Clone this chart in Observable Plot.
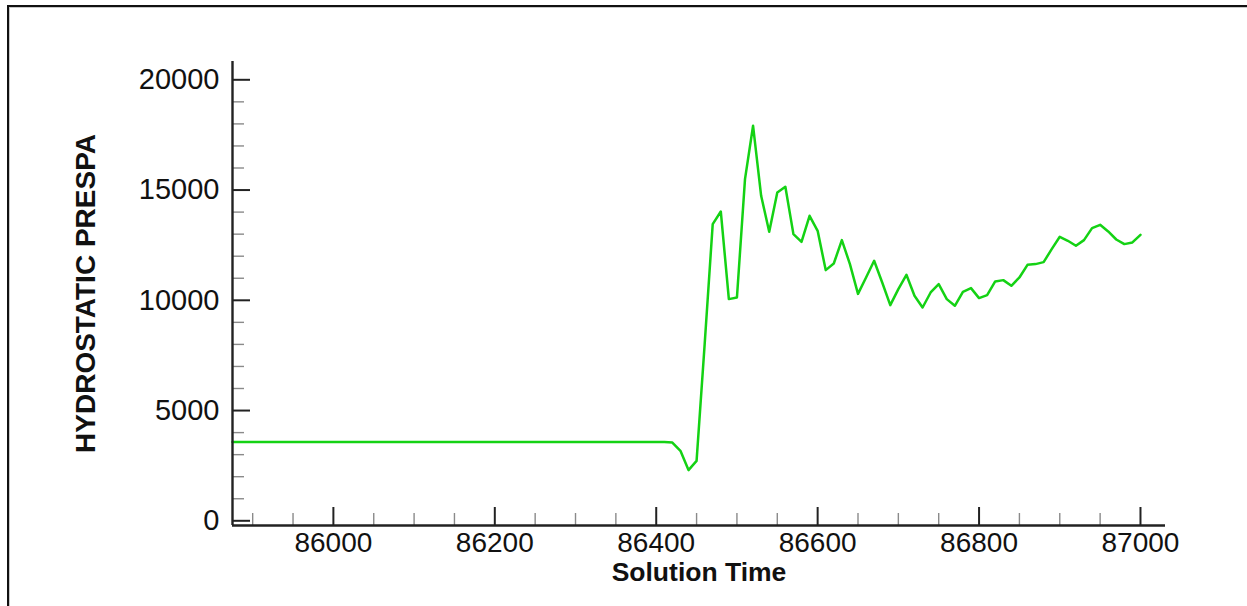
<!DOCTYPE html>
<html>
<head>
<meta charset="utf-8">
<script src="https://cdn.jsdelivr.net/npm/d3@7"></script>
<script src="https://cdn.jsdelivr.net/npm/@observablehq/plot@0.6"></script>
<style>
  html, body { margin: 0; padding: 0; background: #fff; }
  body { position: relative; width: 1247px; height: 606px; overflow: hidden; font-family: "Liberation Sans", Arial, sans-serif; }
  #frame { position: absolute; left: 7px; top: 5px; right: -10px; bottom: -10px;
           border-left: 2px solid #111; border-top: 2px solid #111;
           box-shadow: inset 1px 1px 0 #c8c8c8; pointer-events: none; }
  #chart { position: absolute; left: 0; top: 0; }
</style>
</head>
<body>
<div id="chart"></div>
<div id="frame"></div>
<script>
// Solution time samples and the hydrostatic pressure at each of them
const solutionTime = [
  85875, 86410, 86420, 86430, 86440, 86450, 86460, 86470, 86480, 86490,
  86500, 86510, 86520, 86530, 86540, 86550, 86560, 86570, 86580, 86590,
  86600, 86610, 86620, 86630, 86640, 86650, 86660, 86670, 86680, 86690,
  86700, 86710, 86720, 86730, 86740, 86750, 86760, 86770, 86780, 86790,
  86800, 86810, 86820, 86830, 86840, 86850, 86860, 86870, 86880, 86890,
  86900, 86910, 86920, 86930, 86940, 86950, 86960, 86970, 86980, 86990,
  87000
];
const hydrostaticPressure = [
  3570, 3570, 3550, 3175, 2300, 2720, 8000, 13456, 14028, 10054,
  10127, 15496, 17914, 14739, 13107, 14889, 15147, 13002, 12653, 13832,
  13152, 11369, 11669, 12730, 11641, 10290, 11036, 11791, 10809, 9781,
  10508, 11156, 10204, 9675, 10355, 10733, 10054, 9751, 10385, 10552,
  10100, 10235, 10854, 10915, 10658, 11036, 11610, 11641, 11731, 12321,
  12880, 12698, 12472, 12730, 13274, 13424, 13121, 12758, 12548, 12623,
  12971
];

// Axis ticks
const xMajorTicks = [86000, 86200, 86400, 86600, 86800, 87000];
const xMinorTicks = [85900, 85950, 86050, 86100, 86150, 86250, 86300, 86350,
  86450, 86500, 86550, 86650, 86700, 86750, 86850, 86900, 86950];
const yMajorTicks = [0, 5000, 10000, 15000, 20000];
const yMinorTicks = [1000, 2000, 3000, 4000, 6000, 7000, 8000, 9000,
  11000, 12000, 13000, 14000, 16000, 17000, 18000, 19000];

const xDomain = [85875, 87031];
const yDomain = [-213, 20830];

const xTitle = "Solution Time";
const yTitle = "HYDROSTATIC PRESPA";

const series = solutionTime.map((t, i) => ({t, p: hydrostaticPressure[i]}));

const axisColor = "#222";
const minorColor = "#8a8a8a";

const chart = Plot.plot({
  width: 1247,
  height: 606,
  marginLeft: 232,
  marginRight: 82,
  marginTop: 61,
  marginBottom: 81,
  style: {fontFamily: "'Liberation Sans', Arial, sans-serif", background: "transparent", color: "#111"},
  x: {domain: xDomain},
  y: {domain: yDomain},
  marks: [
    // pressure trace
    Plot.line(series, {x: "t", y: "p", stroke: "#14d214", strokeWidth: 2.5}),

    // minor ticks, drawn inward
    Plot.axisX(xMinorTicks, {tickSize: -12, fill: "none", stroke: minorColor, strokeWidth: 1.4}),
    Plot.axisY(yMinorTicks, {tickSize: -12, fill: "none", stroke: minorColor, strokeWidth: 1.4}),
    // major ticks, drawn inward
    Plot.axisX(xMajorTicks, {tickSize: -18, fill: "none", stroke: axisColor, strokeWidth: 2}),
    Plot.axisY(yMajorTicks, {tickSize: -18, fill: "none", stroke: axisColor, strokeWidth: 2}),

    // tick labels
    Plot.axisX(xMajorTicks, {tickSize: 0, tickPadding: 7, tickFormat: "d", fontSize: 28, label: null, fill: "#111"}),
    Plot.axisY(yMajorTicks, {tickSize: 0, tickPadding: 13, tickFormat: "d", fontSize: 29, label: null, fill: "#111"}),

    // axis lines
    Plot.ruleX([xDomain[0]], {stroke: axisColor, strokeWidth: 2.4}),
    Plot.ruleY([yDomain[0]], {stroke: axisColor, strokeWidth: 2.4}),

    // axis titles
    Plot.text([xTitle], {frameAnchor: "bottom", dy: 47, lineAnchor: "middle", textAnchor: "middle", text: d => d,
      fontSize: 26.5, fontWeight: "bold", fill: "#111"}),
    Plot.text([yTitle], {frameAnchor: "left", dx: -146, rotate: -90, lineAnchor: "middle", textAnchor: "middle", text: d => d,
      fontSize: 28, fontWeight: "bold", fill: "#111"})
  ]
});

document.getElementById("chart").appendChild(chart);
</script>
</body>
</html>
